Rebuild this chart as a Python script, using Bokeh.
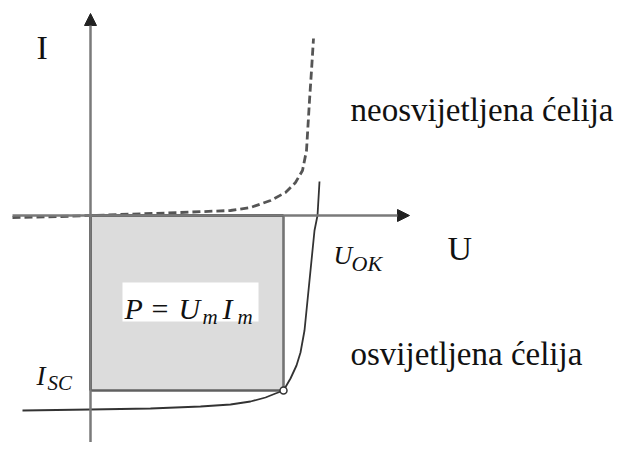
from bokeh.plotting import figure
from bokeh.models import Range1d, Label, Arrow, NormalHead
from bokeh.embed import file_html
from bokeh.resources import INLINE

# ---- data (U, I in diagram units; origin at axes crossing) ----
U_m = 1.93          # voltage at maximum power point
I_m = -1.75         # current at maximum power point
U_OK = 2.27         # open-circuit voltage
I_SC = -1.94        # short-circuit current

lit_U = [-0.68, 0.0, 0.60, 1.10, 1.40, 1.60, 1.75, 1.85, 1.93, 2.00, 2.06, 2.10, 2.14, 2.17, 2.21, 2.24, 2.27, 2.29]
lit_I = [-1.95, -1.94, -1.93, -1.91, -1.89, -1.86, -1.82, -1.78, -1.75, -1.63, -1.50, -1.37, -1.15, -0.85, -0.45, -0.15, 0.0, 0.34]

dark_U = [-0.78, -0.30, 0.30, 0.90, 1.40, 1.60, 1.80, 1.95, 2.05, 2.12, 2.16, 2.19, 2.21, 2.23]
dark_I = [-0.02, -0.01, 0.01, 0.03, 0.05, 0.08, 0.15, 0.23, 0.33, 0.45, 0.65, 1.15, 1.45, 1.77]

axis_labels = ["I", "U"]
curve_labels = ["neosvijetljena ćelija", "osvijetljena ćelija"]

# pixel -> diagram unit helpers (layout only)
def X(px):
    return (px - 90) / 100.0

def Y(py):
    return (215 - py) / 100.0

W, H = 616, 442
p = figure(width=W, height=H, output_backend="svg", toolbar_location=None,
           x_range=Range1d(X(0), X(W)), y_range=Range1d(Y(H), Y(0)),
           min_border=0, outline_line_color=None)
p.axis.visible = False
p.grid.visible = False
p.background_fill_color = "white"

# power rectangle
p.quad(left=[0], right=[U_m], top=[0], bottom=[I_m], fill_color="#dcdcdc", line_color=None)
p.line([U_m, U_m], [0, I_m], line_color="#747474", line_width=2.6)
p.line([0, U_m], [I_m, I_m], line_color="#606060", line_width=2.6)
p.line([0, 0], [I_m, 0], line_color="#222222", line_width=2.5)

# white box behind formula
p.quad(left=[X(122)], right=[X(258)], top=[Y(282)], bottom=[Y(321)], fill_color="white", line_color=None)

# axes with arrows
p.add_layout(Arrow(end=NormalHead(size=12, fill_color="#222222", line_color="#222222"),
                   x_start=X(12), y_start=0, x_end=X(409), y_end=0,
                   line_color="#7a7a7a", line_width=2.5))
p.add_layout(Arrow(end=NormalHead(size=12, fill_color="#222222", line_color="#222222"),
                   x_start=0, y_start=Y(470), x_end=0, y_end=Y(13),
                   line_color="#7a7a7a", line_width=2.5))
p.line([0, U_m], [0, 0], line_color="#222222", line_width=2.5)

# curves
p.line(dark_U, dark_I, line_color="#555555", line_width=2.8, line_dash="8 4")
p.line(lit_U, lit_I, line_color="#333333", line_width=1.8)
p.scatter([U_m], [I_m], marker="circle", size=7, fill_color="white", line_color="#333333", line_width=1.5)

def lab(txt, px, py, size, style="normal", font="Liberation Serif", color="#111111"):
    p.add_layout(Label(x=X(px), y=Y(py), text=txt, text_font=font, text_font_size=f"{size}px",
                       text_font_style=style, text_color=color, text_baseline="alphabetic",
                       text_align="left"))

lab(axis_labels[0], 36, 47, 34)
lab(axis_labels[1], 447, 248, 34)
lab(curve_labels[0], 350, 109, 33)
lab(curve_labels[1], 350, 353, 33)

# U_OK
lab("U", 333, 255, 26, "italic")
lab("OK", 351, 263, 22, "italic")
# I_SC
lab("I", 36, 375, 27, "italic")
lab("SC", 47, 382, 21, "italic")
# P = U_m I_m
lab("P", 124, 308, 30, "italic")
lab("=", 151, 308, 30)
lab("U", 178, 308, 30, "italic")
lab("m", 202, 316, 21, "italic")
lab("I", 222, 308, 30, "italic")
lab("m", 237, 316, 21, "italic")

open("out.html", "w").write(file_html(p, INLINE))
